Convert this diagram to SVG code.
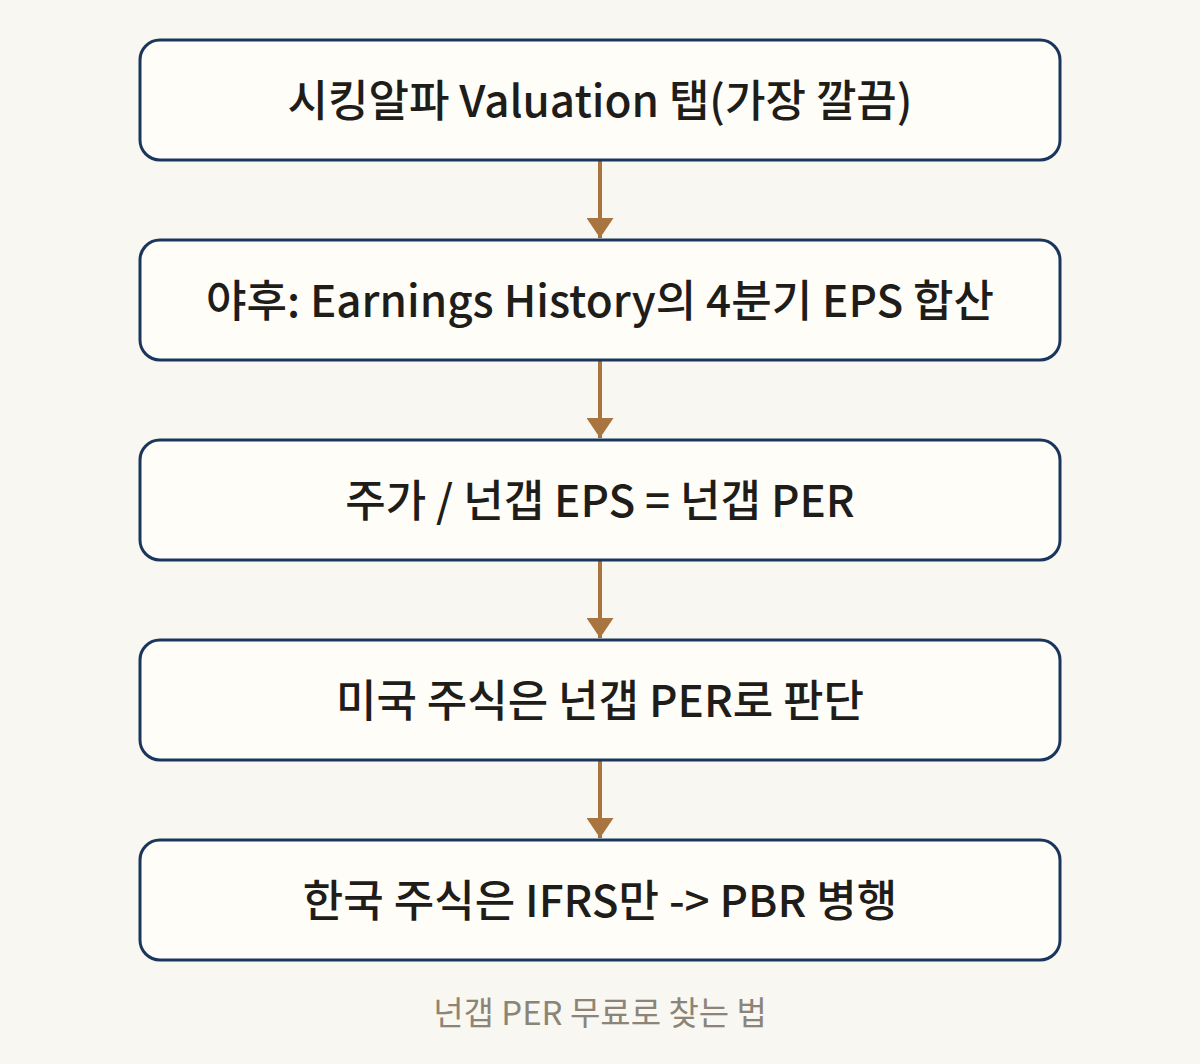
<svg xmlns="http://www.w3.org/2000/svg" width="1200" height="1064" viewBox="0 0 1200 1064">
<defs>
<style>
.box{fill:#fffdf8;stroke:#1b365d;stroke-width:3}
.lbl{font-family:"Noto Sans CJK KR","Noto Sans",sans-serif;font-size:44px;font-weight:500;fill:#1f1d1a;text-anchor:middle;dominant-baseline:central}
.edge{stroke:#a8743f;stroke-width:4;fill:none}
.cap{font-family:"Noto Sans CJK KR","Noto Sans",sans-serif;font-size:33px;fill:#8c8477;text-anchor:middle;dominant-baseline:central}
</style>
<marker id="ah" markerUnits="userSpaceOnUse" markerWidth="20" markerHeight="27" refX="20" refY="13.5" orient="auto" viewBox="0 0 20 27">
<path d="M0,0 L20,13.5 L0,27 Z" fill="#a8743f"/>
</marker>
</defs>
<rect width="1200" height="1064" fill="#f9f7f1"/>
<g id="connectors">
<line class="edge" x1="600" y1="161" x2="600" y2="238" marker-end="url(#ah)"/>
<line class="edge" x1="600" y1="361" x2="600" y2="438" marker-end="url(#ah)"/>
<line class="edge" x1="600" y1="561" x2="600" y2="638" marker-end="url(#ah)"/>
<line class="edge" x1="600" y1="761" x2="600" y2="838" marker-end="url(#ah)"/>
</g>
<g id="n1"><rect class="box" x="140" y="40" width="920" height="120" rx="20"/><text class="lbl" x="600" y="98">시킹알파 Valuation 탭(가장 깔끔)</text></g>
<g id="n2"><rect class="box" x="140" y="240" width="920" height="120" rx="20"/><text class="lbl" x="600" y="298">야후: Earnings History의 4분기 EPS 합산</text></g>
<g id="n3"><rect class="box" x="140" y="440" width="920" height="120" rx="20"/><text class="lbl" x="600" y="498">주가 / 넌갭 EPS = 넌갭 PER</text></g>
<g id="n4"><rect class="box" x="140" y="640" width="920" height="120" rx="20"/><text class="lbl" x="600" y="698">미국 주식은 넌갭 PER로 판단</text></g>
<g id="n5"><rect class="box" x="140" y="840" width="920" height="120" rx="20"/><text class="lbl" x="600" y="898">한국 주식은 IFRS만 -&gt; PBR 병행</text></g>
<text class="cap" x="600" y="1011">넌갭 PER 무료로 찾는 법</text>
</svg>
